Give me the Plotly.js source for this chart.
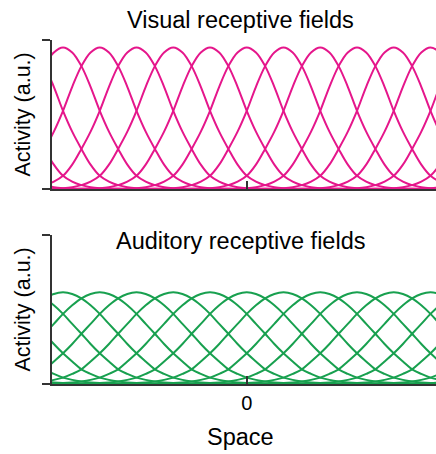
<!DOCTYPE html>
<html>
<head>
<meta charset="utf-8">
<script src="https://cdn.plot.ly/plotly-3.0.1.min.js"></script>
<style>
  html, body { margin: 0; padding: 0; background: #ffffff; }
  #chart { width: 436px; height: 454px; }
</style>
</head>
<body>
<div id="chart"></div>
<script>
// Preferred locations of the receptive fields, in units of field spacing (0 = straight ahead)
const fieldCenters = [-9, -8, -7, -6, -5, -4, -3, -2, -1, 0, 1, 2, 3, 4, 5, 6, 7, 8, 9];

// Normalised tuning profile, sampled at distances from a field's center
const profileOffsets = [0, 0.25, 0.5, 0.75, 1, 1.25, 1.5, 1.75, 2, 2.25, 2.5, 2.75, 3, 3.25, 3.5, 3.75, 4, 4.5, 5];
const visualProfile   = [1, 0.965, 0.868, 0.722, 0.552, 0.405, 0.283, 0.172, 0.093, 0.052, 0.027, 0.013, 0.006, 0.003, 0.001, 0, 0, 0, 0];
const auditoryProfile = [1, 0.983, 0.935, 0.859, 0.765, 0.656, 0.548, 0.437, 0.335, 0.245, 0.160, 0.110, 0.070, 0.045, 0.028, 0.017, 0.010, 0.004, 0];

// Peak activity of a single field (axis runs 0..1)
const visualPeak = 0.95;
const auditoryPeak = 0.615;

// Tick on the space axis
const spaceTickVals = [0];
const spaceTickText = ['0'];

const visualColor = '#e5168b';
const auditoryColor = '#18a04f';
const axisColor = '#333333';
const fontFamily = '"Liberation Sans", Arial, Helvetica, sans-serif';

// Expand the one-sided profile into a full curve around a center
function fieldCurve(center, profile, peak) {
  const xs = [], ys = [];
  for (let i = profileOffsets.length - 1; i > 0; i--) {
    xs.push(center - profileOffsets[i]);
    ys.push(peak * profile[i]);
  }
  for (let i = 0; i < profileOffsets.length; i++) {
    xs.push(center + profileOffsets[i]);
    ys.push(peak * profile[i]);
  }
  return { x: xs, y: ys };
}

const traces = [];
fieldCenters.forEach(c => {
  const v = fieldCurve(c, visualProfile, visualPeak);
  traces.push({
    type: 'scatter', mode: 'lines', x: v.x, y: v.y, xaxis: 'x', yaxis: 'y',
    line: { color: visualColor, width: 2, shape: 'spline', smoothing: 1 },
    hoverinfo: 'skip', showlegend: false
  });
});
fieldCenters.forEach(c => {
  const a = fieldCurve(c, auditoryProfile, auditoryPeak);
  traces.push({
    type: 'scatter', mode: 'lines', x: a.x, y: a.y, xaxis: 'x2', yaxis: 'y2',
    line: { color: auditoryColor, width: 2, shape: 'spline', smoothing: 1 },
    hoverinfo: 'skip', showlegend: false
  });
});

const xRange = [-5.3, 5.15];

function spaceAxis(anchor, labels) {
  return {
    anchor: anchor, domain: [0, 1], range: xRange, fixedrange: true,
    showline: true, linecolor: axisColor, linewidth: 2,
    ticks: 'inside', ticklen: 8, tickwidth: 2, tickcolor: axisColor,
    tickmode: 'array', tickvals: spaceTickVals, ticktext: spaceTickText,
    showticklabels: labels, tickfont: { family: fontFamily, size: 20, color: '#000' },
    showgrid: false, zeroline: false
  };
}
function activityAxis(anchor, domain) {
  return {
    anchor: anchor, domain: domain, range: [0, 1], fixedrange: true,
    showline: true, linecolor: axisColor, linewidth: 2,
    ticks: 'outside', ticklen: 8, tickwidth: 2, tickcolor: axisColor,
    tickmode: 'array', tickvals: [0, 1], showticklabels: false,
    showgrid: false, zeroline: false
  };
}

const titleFont = { family: fontFamily, size: 23.5, color: '#000' };
const axisTitleFont = { family: fontFamily, size: 21.5, color: '#000' };

const layout = {
  width: 436, height: 454,
  margin: { l: 52, r: 0, t: 40, b: 70 },
  paper_bgcolor: '#ffffff', plot_bgcolor: '#ffffff',
  xaxis: spaceAxis('y', false),
  yaxis: activityAxis('x', [0.5669, 1]),
  xaxis2: spaceAxis('y2', true),
  yaxis2: activityAxis('x2', [0, 0.4331]),
  annotations: [
    { text: 'Visual receptive fields', xref: 'paper', yref: 'paper', x: 0.4896, y: 1.058,
      xanchor: 'center', yanchor: 'middle', showarrow: false, font: titleFont },
    { text: 'Auditory receptive fields', xref: 'paper', yref: 'paper', x: 0.4896, y: 0.4157,
      xanchor: 'center', yanchor: 'middle', showarrow: false, font: titleFont },
    { text: 'Activity (a.u.)', xref: 'paper', yref: 'paper', x: -0.0755, y: 0.7834,
      xanchor: 'center', yanchor: 'middle', textangle: -90, showarrow: false, font: axisTitleFont },
    { text: 'Activity (a.u.)', xref: 'paper', yref: 'paper', x: -0.0755, y: 0.2166,
      xanchor: 'center', yanchor: 'middle', textangle: -90, showarrow: false, font: axisTitleFont },
    { text: 'Space', xref: 'paper', yref: 'paper', x: 0.4896, y: -0.1536,
      xanchor: 'center', yanchor: 'middle', showarrow: false, font: titleFont }
  ]
};

Plotly.newPlot('chart', traces, layout, { staticPlot: true, displayModeBar: false });
</script>
</body>
</html>
